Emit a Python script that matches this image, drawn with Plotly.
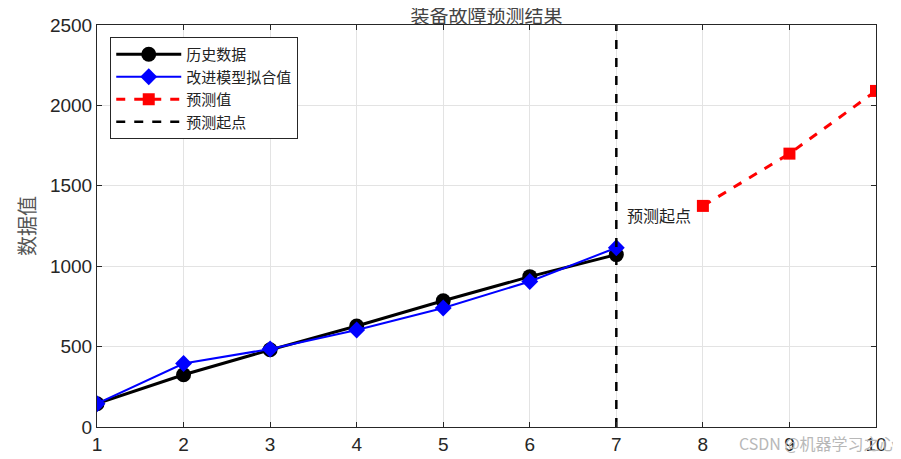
import plotly.graph_objects as go

hist_x = [1, 2, 3, 4, 5, 6, 7]
hist_y = [145, 325, 480, 628, 785, 935, 1072]
fit_y = [145, 395, 485, 603, 740, 905, 1115]
pred_x = [8, 9, 10]
pred_y = [1375, 1700, 2090]
start_x = 7
y_range = [0, 2500]
x_ticks = [1, 2, 3, 4, 5, 6, 7, 8, 9, 10]
y_ticks = [0, 500, 1000, 1500, 2000, 2500]

cjk = "Noto Sans CJK SC"
fig = go.Figure()
fig.add_trace(go.Scatter(x=hist_x, y=hist_y, mode="lines+markers", name="历史数据",
                         line=dict(color="black", width=3),
                         marker=dict(symbol="circle", size=15, color="black")))
fig.add_trace(go.Scatter(x=hist_x, y=fit_y, mode="lines+markers", name="改进模型拟合值",
                         line=dict(color="#0000ff", width=2),
                         marker=dict(symbol="diamond", size=13, color="#0000ff")))
fig.add_trace(go.Scatter(x=pred_x, y=pred_y, mode="lines+markers", name="预测值",
                         line=dict(color="#ff0000", width=3, dash="dash"),
                         marker=dict(symbol="square", size=12, color="#ff0000")))
fig.add_trace(go.Scatter(x=[start_x, start_x], y=y_range, mode="lines", name="预测起点",
                         line=dict(color="black", width=2.5, dash="dash")))

fig.add_annotation(x=start_x + 0.1, y=1320, text="预测起点", showarrow=False,
                   xanchor="left", yanchor="middle",
                   font=dict(family=cjk, size=16, color="#222"))
fig.add_annotation(x=1.0, y=0, xref="paper", yref="paper", yshift=-16, xshift=22,
                   text="CSDN @机器学习之心", showarrow=False, xanchor="right", yanchor="middle",
                   font=dict(family=cjk, size=16, color="#b8b8b8"))

# page body has an 8px margin on left/top, so size/margins are adjusted accordingly
fig.update_layout(
    width=893, height=451,
    margin=dict(l=89, r=25, t=17, b=32),
    paper_bgcolor="white", plot_bgcolor="white",
    title=dict(text="装备故障预测结果", x=0.5, xref="paper", xanchor="center",
               y=0.982, yref="container", yanchor="middle",
               font=dict(family=cjk, size=19, color="#444")),
    font=dict(family="Liberation Sans, Arial", size=19, color="#262626"),
    showlegend=True,
    legend=dict(x=0.017, y=0.97, xanchor="left", yanchor="top",
                bgcolor="white", bordercolor="#262626", borderwidth=1,
                font=dict(family=cjk, size=15, color="#222"),
                tracegroupgap=0, itemwidth=65),
)
fig.update_xaxes(range=[1, 10], tickvals=x_ticks, ticks="inside", ticklen=5,
                 showgrid=True, gridcolor="#e3e3e3", showline=True, linecolor="#262626",
                 mirror="ticks", zeroline=False, tickcolor="#262626", automargin=False)
fig.update_yaxes(range=y_range, tickvals=y_ticks, ticks="inside", ticklen=5,
                 showgrid=True, gridcolor="#e3e3e3", showline=True, linecolor="#262626",
                 mirror="ticks", zeroline=False, tickcolor="#262626", automargin=False,
                 title=dict(text="数据值", font=dict(family=cjk, size=20, color="#555"), standoff=8))

fig.write_html("out.html")
